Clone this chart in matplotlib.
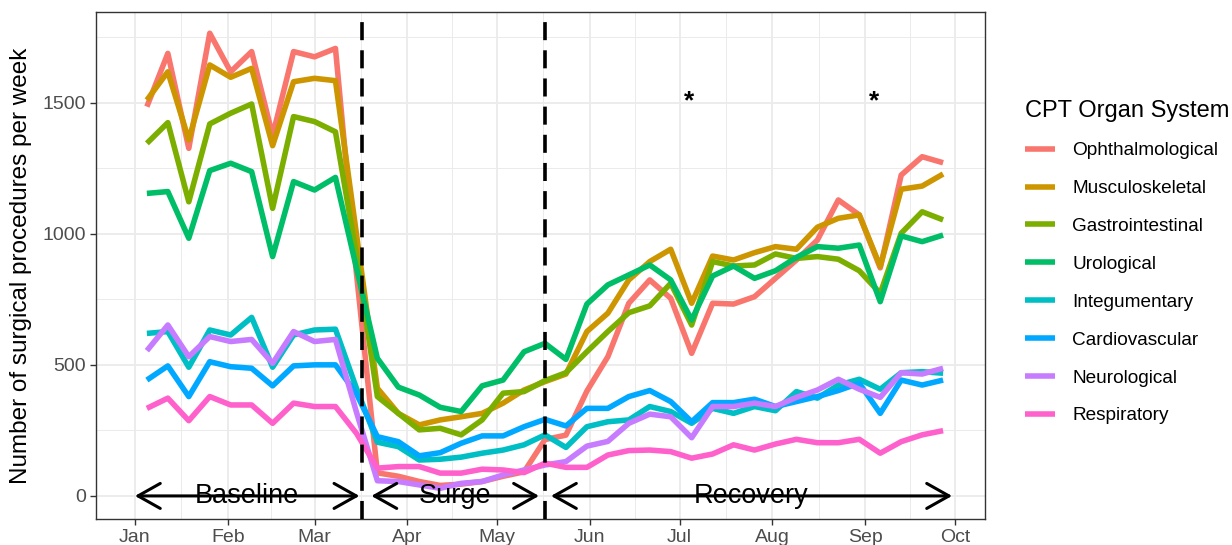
import pandas as pd
import numpy as np
import matplotlib.pyplot as plt
import matplotlib.dates as mdates

plt.rcParams['font.family'] = ['Liberation Sans', 'DejaVu Sans']

# weekly counts, first week starting 2020-01-05
weeks = pd.date_range('2020-01-05', periods=39, freq='7D')

ophthalmological = [1485, 1688, 1326, 1765, 1618, 1695, 1375, 1695, 1675, 1707,
                    850, 88, 75, 55, 40, 45, 55, 75, 92, 215,
                    232, 400, 531, 735, 824, 754, 544, 735, 732, 760,
                    830, 900, 976, 1129, 1072, 870, 1224, 1294, 1271]
musculoskeletal = [1510, 1618, 1358, 1644, 1597, 1631, 1336, 1580, 1593, 1584,
                   1000, 411, 315, 271, 290, 302, 315, 354, 404, 436,
                   465, 627, 697, 824, 894, 941, 735, 915, 900, 928,
                   951, 941, 1025, 1059, 1072, 875, 1170, 1182, 1228]
gastrointestinal = [1345, 1424, 1122, 1419, 1460, 1495, 1097, 1447, 1428, 1389,
                    920, 379, 315, 252, 258, 233, 290, 392, 398, 440,
                    470, 550, 627, 699, 725, 811, 652, 894, 877, 881,
                    923, 906, 913, 903, 859, 773, 1002, 1084, 1053]
urological = [1154, 1161, 983, 1241, 1269, 1237, 913, 1199, 1167, 1215,
              870, 525, 415, 385, 338, 322, 420, 442, 550, 582,
              521, 732, 805, 843, 881, 824, 671, 839, 877, 830,
              859, 910, 951, 945, 957, 741, 992, 970, 995]
integumentary = [620, 627, 491, 633, 614, 681, 491, 614, 633, 636,
                 411, 205, 188, 137, 140, 148, 163, 175, 195, 233,
                 185, 264, 283, 290, 341, 322, 277, 334, 315, 341,
                 325, 398, 373, 423, 445, 407, 470, 474, 468]
cardiovascular = [442, 496, 379, 512, 493, 487, 420, 496, 500, 500,
                  390, 226, 207, 153, 165, 201, 229, 229, 264, 292,
                  267, 334, 334, 379, 402, 360, 283, 356, 356, 369,
                  341, 360, 379, 402, 430, 315, 442, 423, 442]
neurological = [554, 652, 531, 608, 589, 597, 506, 627, 589, 597,
                320, 58, 55, 42, 29, 48, 55, 80, 99, 118,
                131, 190, 208, 277, 312, 302, 222, 341, 341, 354,
                341, 376, 404, 445, 407, 376, 470, 465, 487]
respiratory = [334, 373, 287, 379, 347, 347, 277, 354, 341, 341,
               239, 106, 112, 112, 87, 87, 102, 99, 89, 125,
               109, 109, 156, 173, 175, 169, 144, 160, 195, 175,
               198, 216, 203, 203, 216, 163, 207, 233, 249]

systems = ['Ophthalmological', 'Musculoskeletal', 'Gastrointestinal', 'Urological',
           'Integumentary', 'Cardiovascular', 'Neurological', 'Respiratory']
series = [ophthalmological, musculoskeletal, gastrointestinal, urological,
          integumentary, cardiovascular, neurological, respiratory]
colors = ['#F8766D', '#CD9600', '#7CAE00', '#00BE67',
          '#00BFC4', '#00A9FF', '#C77CFF', '#FF61CC']

# phase boundaries and labels
cutoffs = ['2020-03-17', '2020-05-17']
phases = ['Baseline', 'Surge', 'Recovery']
phase_start = ['2020-01-01', '2020-03-20', '2020-05-19']
phase_end = ['2020-03-16', '2020-05-15', '2020-09-30']
holidays = ['2020-07-04', '2020-09-04']

fig = plt.figure(figsize=(12.32, 5.45), dpi=100)
ax = fig.add_axes([96/1232, 1 - 519/545, (985-96)/1232, (519-12)/545])

for name, vals, c in zip(systems, series, colors):
    ax.plot(weeks, vals, color=c, lw=4.0, label=name, solid_capstyle='butt')

for d in cutoffs:
    ax.axvline(pd.Timestamp(d), color='black', lw=2.6, dashes=(5.0, 2.8), zorder=5)

for name, a, b in zip(phases, phase_start, phase_end):
    a = pd.Timestamp(a)
    b = pd.Timestamp(b)
    ax.annotate('', xy=(b, 0), xytext=(a, 0),
                arrowprops=dict(arrowstyle='<->,head_length=16,head_width=9',
                                mutation_scale=1, lw=2.2, color='black',
                                shrinkA=0, shrinkB=0), zorder=6)
    ax.text(a + (b - a) / 2, 0, name, ha='center', va='center',
            fontsize=19.5, color='black', zorder=7)

for d in holidays:
    ax.text(pd.Timestamp(d), 1505, '*', ha='center', va='center',
            fontsize=19, fontweight='bold')

ax.set_xlim(pd.Timestamp('2019-12-19'), pd.Timestamp('2020-10-11'))
ax.set_ylim(-88, 1846)

months = pd.date_range('2020-01-01', '2020-10-01', freq='MS')
mids = [months[i] + (months[i+1] - months[i]) / 2 for i in range(len(months) - 1)]
ax.set_xticks(months)
ax.set_xticklabels([m.strftime('%b') for m in months])
ax.set_xticks(mids, minor=True)
ax.set_yticks([0, 500, 1000, 1500])
ax.set_yticks([250, 750, 1250, 1750], minor=True)

ax.grid(True, which='major', color='#EBEBEB', lw=1.3)
ax.grid(True, which='minor', color='#EBEBEB', lw=0.7)
ax.set_axisbelow(True)
ax.tick_params(which='major', length=4, width=1, color='#333333',
               labelsize=14, labelcolor='#4D4D4D', pad=3)
ax.tick_params(which='minor', length=0)
for s in ax.spines.values():
    s.set_color('#333333')
    s.set_linewidth(1)

ax.set_ylabel('Number of surgical procedures per week', fontsize=17.5, labelpad=8)

leg = fig.legend(loc='upper left', bbox_to_anchor=(1015/1232, 1 - 90/545),
                 frameon=False, title='CPT Organ System', title_fontsize=17,
                 fontsize=13.7, handlelength=1.6, handletextpad=0.9,
                 labelspacing=1.08, borderpad=0, alignment='left')

fig.savefig('out.png', dpi=100)
